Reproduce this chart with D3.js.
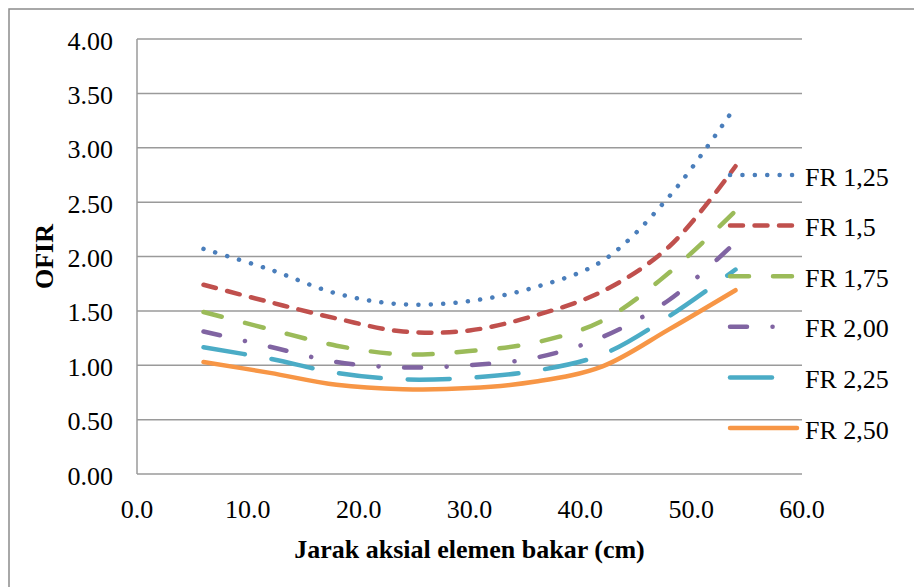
<!DOCTYPE html>
<html>
<head>
<meta charset="utf-8">
<script src="https://cdnjs.cloudflare.com/ajax/libs/d3/7.8.5/d3.min.js"></script>
<style>
    body { margin: 0; background: #fff; }
    text { font-family: 'Liberation Serif', 'Times New Roman', serif; fill: #000; }
    .title { font-weight: bold; font-size: 26px; }
    .tick-label { font-size: 26px; }
</style>
</head>
<body>
<div id="vis"></div>
<script>
// Axial positions (cm) where OFIR was read
var positions = [6, 12, 18, 24, 30, 36, 42, 48, 54];

// OFIR values per flow ratio
var fr125 = [2.07, 1.88, 1.66, 1.56, 1.59, 1.72, 1.96, 2.55, 3.38];
var fr150 = [1.74, 1.58, 1.43, 1.31, 1.32, 1.46, 1.68, 2.09, 2.83];
var fr175 = [1.49, 1.33, 1.18, 1.10, 1.13, 1.21, 1.41, 1.85, 2.42];
var fr200 = [1.31, 1.17, 1.03, 0.98, 1.00, 1.07, 1.26, 1.60, 2.13];
var fr225 = [1.165, 1.06, 0.93, 0.87, 0.885, 0.95, 1.10, 1.45, 1.88];
var fr250 = [1.03, 0.93, 0.82, 0.78, 0.79, 0.85, 0.99, 1.33, 1.69];

var seriesNames = ['FR 1,25', 'FR 1,5', 'FR 1,75', 'FR 2,00', 'FR 2,25', 'FR 2,50'];

// Tick values
var xTicks = [0, 10, 20, 30, 40, 50, 60];
var yTicks = [0, 0.5, 1, 1.5, 2, 2.5, 3, 3.5, 4];

// Line styles (Excel-like)
var styles = [
    { color: '#4a7ebb', dash: '0.1 12.3' },
    { color: '#c0504d', dash: '13 11.5' },
    { color: '#9bbb59', dash: '19 24' },
    { color: '#8064a2', dash: '17 25.5 0.1 25.5' },
    { color: '#4bacc6', dash: '42 27' },
    { color: '#f79646', dash: null }
];

var width = 914;
var height = 587;

var margin = { left: 137, top: 39, right: 112, bottom: 113 };

var svg = d3.select('#vis')
    .append('svg')
    .attr('width', width)
    .attr('height', height);

// Outer chart border (runs off the right and bottom of the picture)
svg.append('rect')
    .attr('x', 9)
    .attr('y', 9)
    .attr('width', 1000)
    .attr('height', 1000)
    .attr('fill', 'none')
    .attr('stroke', '#8c8c8c')
    .attr('stroke-width', 1.5);

var xScale = d3.scaleLinear()
    .domain([0, 60])
    .range([margin.left, width - margin.right]);

var yScale = d3.scaleLinear()
    .domain([0, 4])
    .range([height - margin.bottom, margin.top]);

// Horizontal gridlines
svg.append('g')
    .selectAll('line')
    .data(yTicks)
    .enter().append('line')
    .attr('x1', xScale(0))
    .attr('x2', xScale(60))
    .attr('y1', function(d) { return yScale(d); })
    .attr('y2', function(d) { return yScale(d); })
    .attr('stroke', '#9a9a9a')
    .attr('stroke-width', 1.5);

// Left axis line
svg.append('line')
    .attr('x1', xScale(0))
    .attr('x2', xScale(0))
    .attr('y1', yScale(4))
    .attr('y2', yScale(0))
    .attr('stroke', '#9a9a9a')
    .attr('stroke-width', 1.5);

// Y tick labels
svg.append('g')
    .selectAll('text')
    .data(yTicks)
    .enter().append('text')
    .attr('class', 'tick-label')
    .attr('x', xScale(0) - 24)
    .attr('y', function(d) { return yScale(d) + 2; })
    .attr('text-anchor', 'end')
    .attr('dominant-baseline', 'central')
    .text(function(d) { return d3.format('.2f')(d); });

// X tick labels
svg.append('g')
    .selectAll('text')
    .data(xTicks)
    .enter().append('text')
    .attr('class', 'tick-label')
    .attr('x', function(d) { return xScale(d); })
    .attr('y', yScale(0) + 44)
    .attr('text-anchor', 'middle')
    .text(function(d) { return d3.format('.1f')(d); });

// Axis titles
svg.append('text')
    .attr('class', 'title')
    .attr('x', (xScale(0) + xScale(60)) / 2)
    .attr('y', 558)
    .attr('text-anchor', 'middle')
    .text('Jarak aksial elemen bakar (cm)');

svg.append('text')
    .attr('class', 'title')
    .attr('transform', 'translate(53,' + ((yScale(0) + yScale(4)) / 2) + ') rotate(-90)')
    .attr('text-anchor', 'middle')
    .text('OFIR');

// Build series from the arrays
var allValues = [fr125, fr150, fr175, fr200, fr225, fr250];
var series = allValues.map(function(vals, i) {
    return {
        name: seriesNames[i],
        style: styles[i],
        points: positions.map(function(p, j) { return { x: p, y: vals[j] }; })
    };
});

var line = d3.line()
    .x(function(d) { return xScale(d.x); })
    .y(function(d) { return yScale(d.y); })
    .curve(d3.curveCatmullRom.alpha(0.5));

// Draw in reverse so the first series sits on top
svg.append('g')
    .selectAll('path')
    .data(series.slice().reverse())
    .enter().append('path')
    .attr('d', function(d) { return line(d.points); })
    .attr('fill', 'none')
    .attr('stroke', function(d) { return d.style.color; })
    .attr('stroke-width', 4.5)
    .attr('stroke-linecap', 'round')
    .attr('stroke-dasharray', function(d) { return d.style.dash; });

// Legend
var legendY = d3.scaleLinear()
    .domain([0, 5])
    .range([175, 428]);

var legend = svg.append('g')
    .selectAll('g')
    .data(series)
    .enter().append('g')
    .attr('transform', function(d, i) { return 'translate(0,' + legendY(i) + ')'; });

legend.append('line')
    .attr('x1', 730)
    .attr('x2', 797)
    .attr('y1', 0)
    .attr('y2', 0)
    .attr('stroke', function(d) { return d.style.color; })
    .attr('stroke-width', 4.5)
    .attr('stroke-linecap', 'round')
    .attr('stroke-dasharray', function(d) { return d.style.dash; });

legend.append('text')
    .attr('class', 'tick-label')
    .attr('x', 805)
    .attr('y', 2)
    .attr('dominant-baseline', 'central')
    .text(function(d) { return d.name; });
</script>
</body>
</html>
